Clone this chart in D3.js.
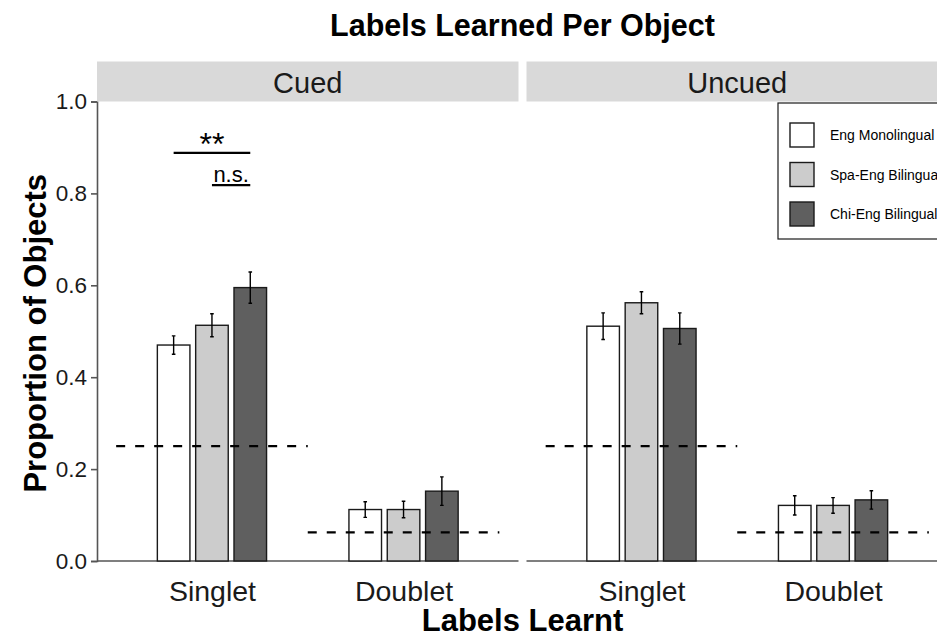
<!DOCTYPE html>
<html>
<head>
<meta charset="utf-8">
<script src="https://cdn.jsdelivr.net/npm/d3@7"></script>
<style>
  html, body { margin: 0; padding: 0; background: #fff; }
  svg { display: block; font-family: "Liberation Sans", Arial, sans-serif; }
</style>
</head>
<body>
<svg id="chart" width="937" height="638"></svg>
<script>
// Labels learned per object, by cueing condition and language group
const conditions = ["Cued", "Uncued"];
const categories = ["Singlet", "Doublet"];
const groups = ["Eng Monolingual", "Spa-Eng Bilingual", "Chi-Eng Bilingual"];
const groupFills = ["#ffffff", "#cccccc", "#5f5f5f"];

// mean proportions per cell, one value per group
const cuedSinglet = [0.470, 0.513, 0.595];
const cuedDoublet = [0.112, 0.112, 0.152];
const uncuedSinglet = [0.511, 0.562, 0.506];
const uncuedDoublet = [0.121, 0.121, 0.133];

// standard errors, same layout
const cuedSingletSE = [0.020, 0.025, 0.034];
const cuedDoubletSE = [0.017, 0.018, 0.031];
const uncuedSingletSE = [0.029, 0.024, 0.034];
const uncuedDoubletSE = [0.021, 0.017, 0.020];

// chance level per category
const chanceLevels = [0.25, 0.0625];

// pairwise comparisons in the Cued / Singlet cell
const comparisons = [
  { label: "**", from: 0, to: 2, y: 0.888 },
  { label: "n.s.", from: 1, to: 2, y: 0.818 }
];

const yTicks = [0, 0.2, 0.4, 0.6, 0.8, 1.0];

const means = { Cued: [cuedSinglet, cuedDoublet], Uncued: [uncuedSinglet, uncuedDoublet] };
const ses = { Cued: [cuedSingletSE, cuedDoubletSE], Uncued: [uncuedSingletSE, uncuedDoubletSE] };

const svg = d3.select("#chart");
const font = "'Liberation Sans', Arial, sans-serif";

const panelTop = 101.5, panelBottom = 561;
const panelW = 421.5, panelGap = 8;
const panelX0 = [97, 97 + panelW + panelGap];
const stripH = 40;
const panelsCenter = (panelX0[0] + panelX0[1] + panelW) / 2;

const y = d3.scaleLinear().domain([0, 1]).range([panelBottom, panelTop]);

// title
svg.append("text")
  .attr("x", panelsCenter)
  .attr("y", 36)
  .attr("text-anchor", "middle")
  .attr("font-size", 30.5)
  .attr("font-weight", "bold")
  .attr("fill", "#000")
  .text("Labels Learned Per Object");

// y axis title
svg.append("text")
  .attr("transform", `translate(46,${(panelTop + panelBottom) / 2 + 2}) rotate(-90)`)
  .attr("text-anchor", "middle")
  .attr("font-size", 31)
  .attr("font-weight", "bold")
  .attr("fill", "#000")
  .text("Proportion of Objects");

// x axis title
svg.append("text")
  .attr("x", panelsCenter)
  .attr("y", 631)
  .attr("text-anchor", "middle")
  .attr("font-size", 31)
  .attr("font-weight", "bold")
  .attr("fill", "#000")
  .text("Labels Learnt");

// y axis on the left panel
const yAxis = d3.axisLeft(y).tickValues(yTicks).tickFormat(d3.format(".1f")).tickSizeOuter(0).tickSize(6).tickPadding(4);
const yg = svg.append("g").attr("transform", `translate(${panelX0[0]},0)`).call(yAxis);
yg.select(".domain").attr("stroke", "#555").attr("stroke-width", 1.6);
yg.selectAll(".tick line").attr("stroke", "#555").attr("stroke-width", 1.6);
yg.selectAll(".tick text").attr("font-size", 22.5).attr("fill", "#1a1a1a").attr("font-family", font);

conditions.forEach((cond, ci) => {
  const x0 = panelX0[ci];
  const g = svg.append("g");

  const x = d3.scalePoint().domain(categories).range([x0, x0 + panelW]).padding(0.6);
  const step = x.step();
  const dodge = d3.scaleBand().domain(groups)
    .range([-0.3 * step, 0.3 * step]).paddingInner(0.15).paddingOuter(0.075);

  // strip
  g.append("rect")
    .attr("x", x0).attr("y", panelTop - stripH)
    .attr("width", panelW).attr("height", stripH)
    .attr("fill", "#d9d9d9");
  g.append("text")
    .attr("x", x0 + panelW / 2).attr("y", panelTop - 9)
    .attr("text-anchor", "middle")
    .attr("font-size", 29)
    .attr("fill", "#1a1a1a")
    .text(cond);

  // x axis
  const xAxis = d3.axisBottom(x).tickSize(0).tickPadding(0).tickSizeOuter(0);
  const xg = g.append("g").attr("transform", `translate(0,${panelBottom})`).call(xAxis);
  xg.select(".domain").attr("stroke", "#555").attr("stroke-width", 1.6)
    .attr("d", `M${x0},0H${x0 + panelW}`);
  xg.selectAll(".tick text")
    .attr("font-size", 28.5).attr("fill", "#1a1a1a").attr("font-family", font)
    .attr("dy", "0").attr("y", 40);

  categories.forEach((cat, ki) => {
    const cx = x(cat);
    const vals = means[cond][ki];
    const errs = ses[cond][ki];

    // bars
    g.selectAll(null).data(groups).enter().append("rect")
      .attr("x", (d) => cx + dodge(d))
      .attr("width", dodge.bandwidth())
      .attr("y", (d, i) => y(vals[i]))
      .attr("height", (d, i) => y(0) - y(vals[i]))
      .attr("fill", (d, i) => groupFills[i])
      .attr("stroke", "#1a1a1a")
      .attr("stroke-width", 1.4);

    // error bars
    const capHalf = 1.8;
    groups.forEach((grp, i) => {
      const ex = cx + dodge(grp) + dodge.bandwidth() / 2;
      const lo = y(vals[i] - errs[i]), hi = y(vals[i] + errs[i]);
      g.append("path")
        .attr("d", `M${ex},${lo}V${hi}M${ex - capHalf},${lo}H${ex + capHalf}M${ex - capHalf},${hi}H${ex + capHalf}`)
        .attr("stroke", "#000").attr("stroke-width", 1.4).attr("fill", "none");
    });

    // chance level
    g.append("line")
      .attr("x1", cx - 0.5 * step).attr("x2", cx + 0.5 * step)
      .attr("y1", y(chanceLevels[ki])).attr("y2", y(chanceLevels[ki]))
      .attr("stroke", "#000").attr("stroke-width", 2.2)
      .attr("stroke-dasharray", "9,10");

    // significance brackets
    if (cond === "Cued" && cat === "Singlet") {
      comparisons.forEach((c) => {
        const xa = cx + dodge(groups[c.from]) + dodge.bandwidth() / 2;
        const xb = cx + dodge(groups[c.to]) + dodge.bandwidth() / 2;
        const stars = /^\*+$/.test(c.label);
        g.append("line")
          .attr("x1", xa).attr("x2", xb)
          .attr("y1", y(c.y)).attr("y2", y(c.y))
          .attr("stroke", "#000").attr("stroke-width", 2.2);
        g.append("text")
          .attr("x", (xa + xb) / 2).attr("y", y(c.y) + (stars ? 2 : -3))
          .attr("text-anchor", "middle")
          .attr("font-size", stars ? 32 : 22)
          .attr("fill", "#000")
          .text(c.label);
      });
    }
  });

  // legend inside the right panel
  if (cond === "Uncued") {
    const lx = 778, ly = 103;
    const lg = g.append("g");
    lg.append("rect")
      .attr("x", lx).attr("y", ly).attr("width", 180).attr("height", 136)
      .attr("fill", "#fff").attr("stroke", "#1a1a1a").attr("stroke-width", 1.2);
    groups.forEach((grp, i) => {
      const ky = ly + 20 + i * 39.5;
      lg.append("rect")
        .attr("x", lx + 12).attr("y", ky).attr("width", 24).attr("height", 24)
        .attr("fill", groupFills[i]).attr("stroke", "#1a1a1a").attr("stroke-width", 1.4);
      lg.append("text")
        .attr("x", lx + 52).attr("y", ky + 12)
        .attr("dominant-baseline", "central")
        .attr("font-size", 14)
        .attr("fill", "#000")
        .text(grp);
    });
  }
});
</script>
</body>
</html>
